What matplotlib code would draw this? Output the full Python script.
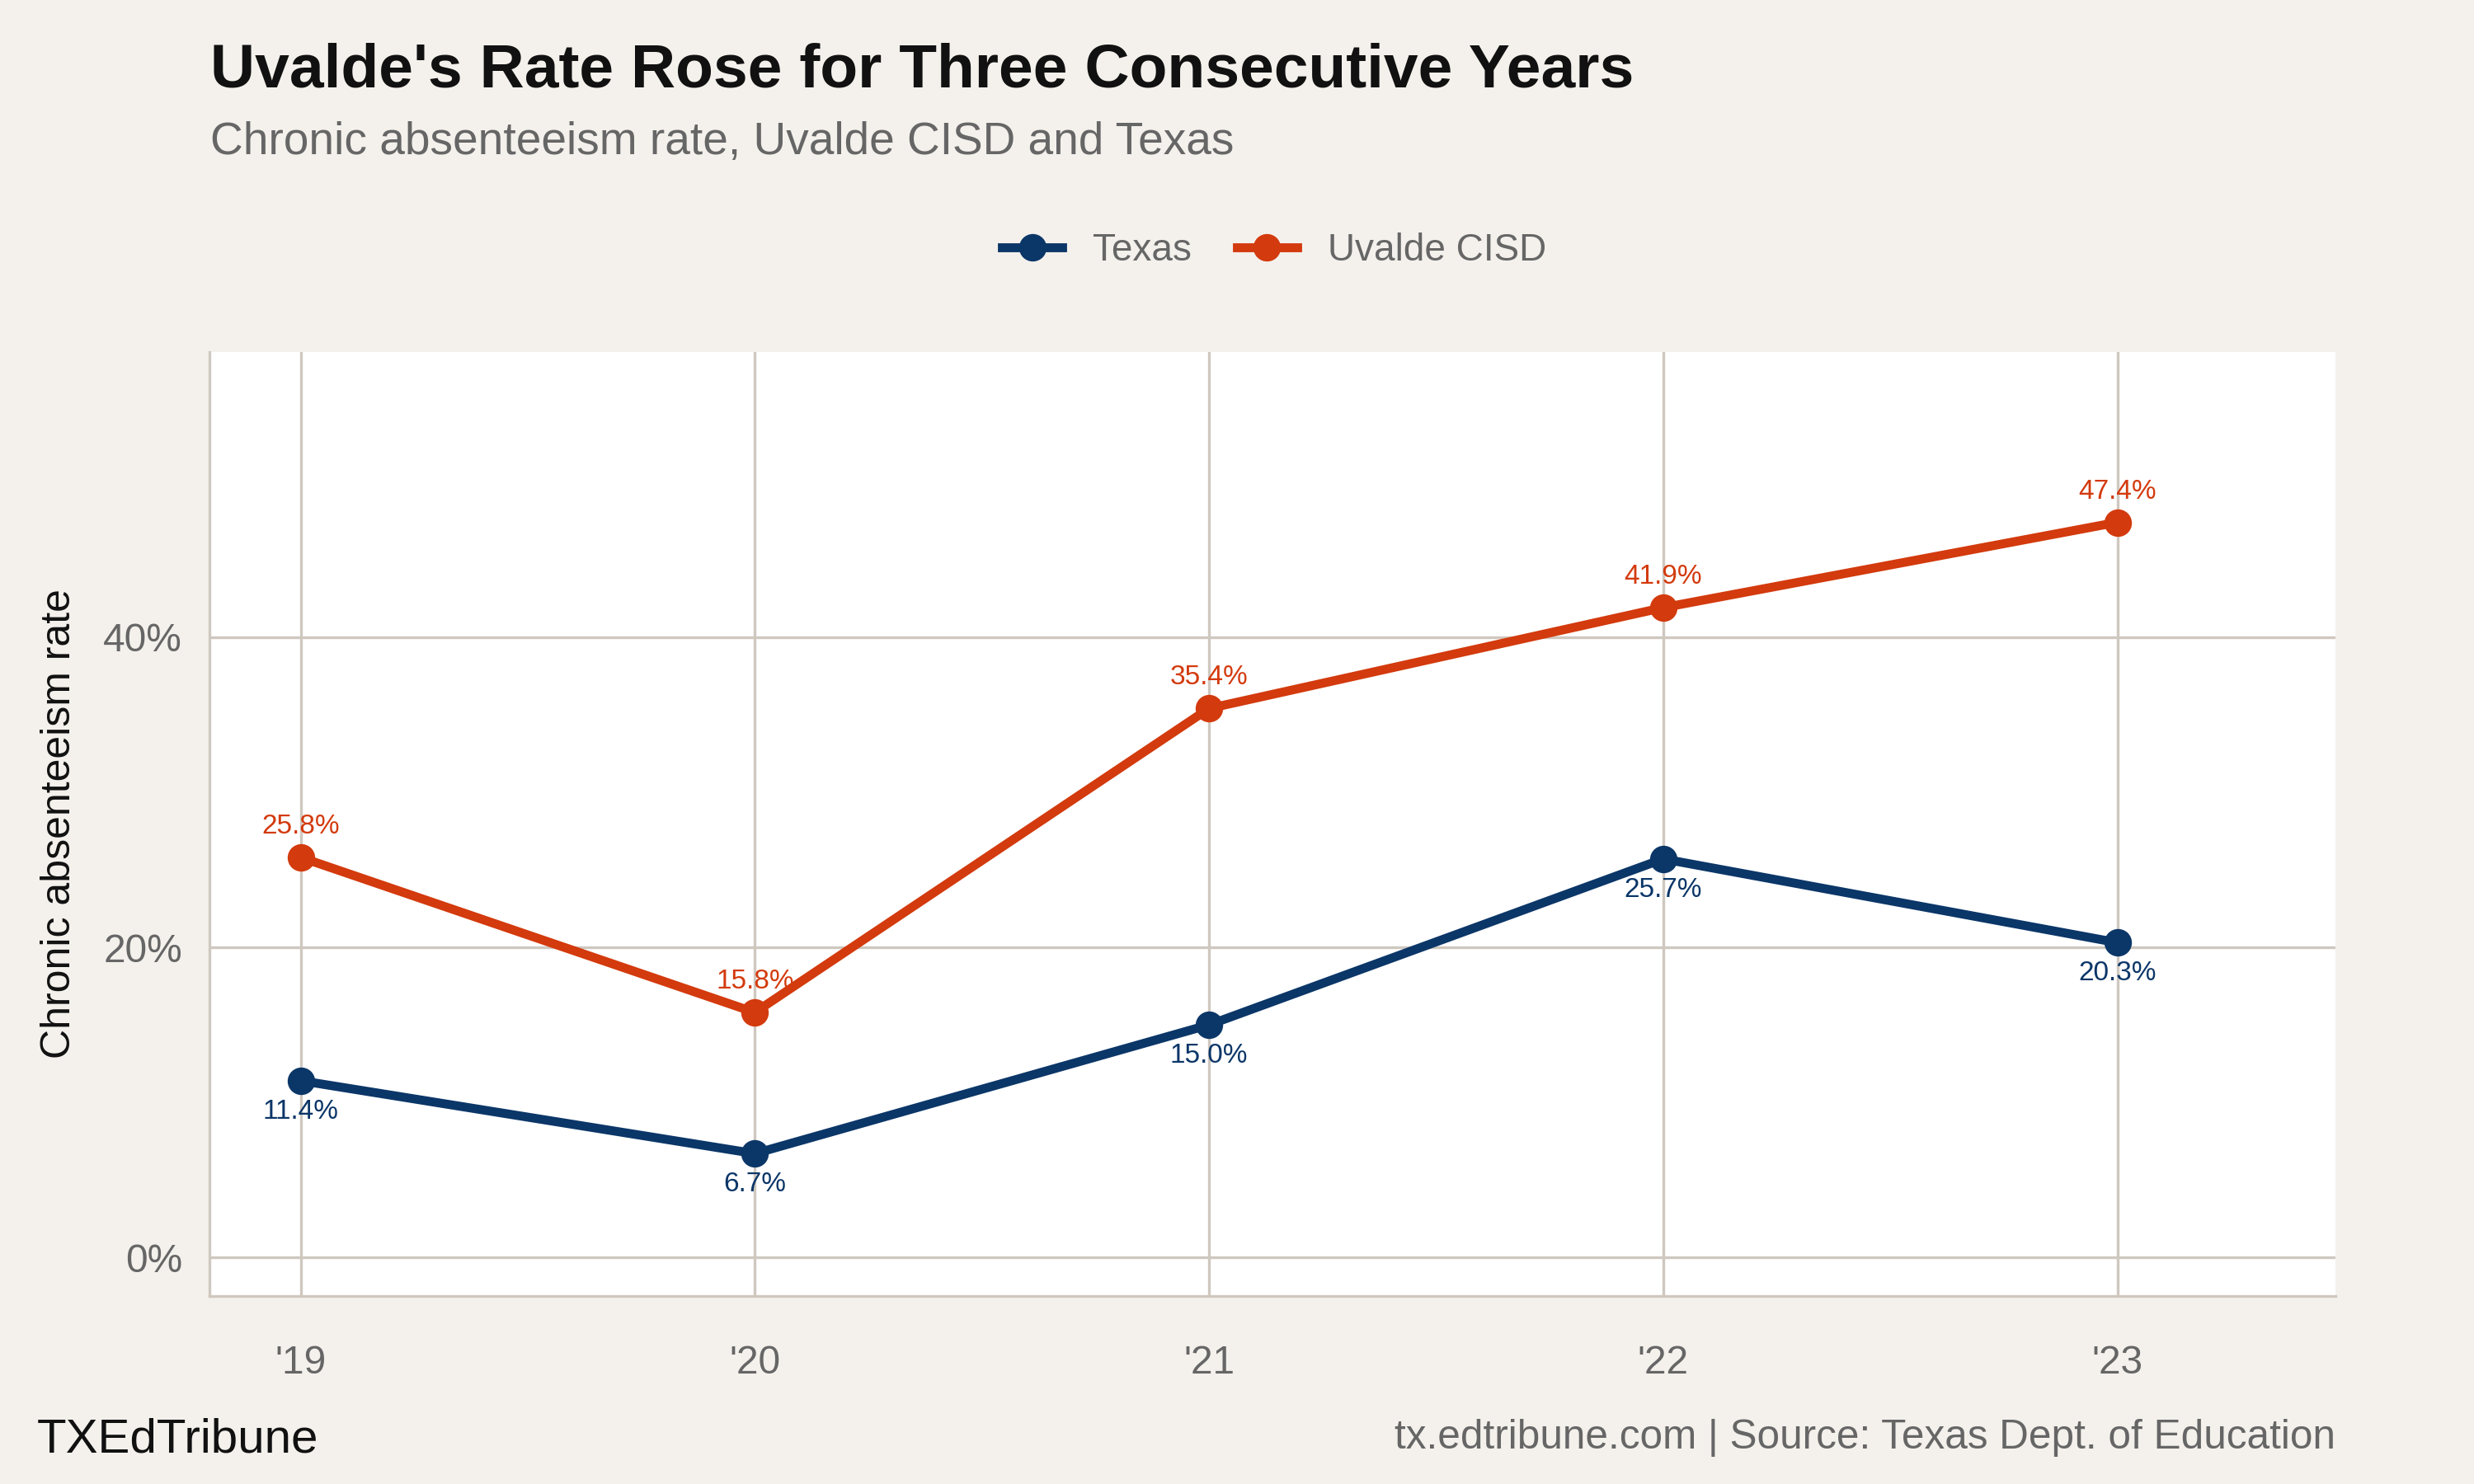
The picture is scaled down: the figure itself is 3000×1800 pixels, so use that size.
import matplotlib.pyplot as plt
from matplotlib.ticker import FuncFormatter

plt.rcParams['font.family'] = ['Liberation Sans', 'DejaVu Sans']

years = [2019, 2020, 2021, 2022, 2023]
year_labels = ["'19", "'20", "'21", "'22", "'23"]
texas = [11.4, 6.7, 15.0, 25.7, 20.3]
uvalde = [25.8, 15.8, 35.4, 41.9, 47.4]

bg = '#f4f1ec'
grid_c = '#cfc8bf'
c_tx = '#0b3668'
c_uv = '#d33a0d'

fig = plt.figure(figsize=(10, 6), dpi=300, facecolor=bg)
ax = fig.add_axes([0.0848, 0.1265, 0.8592, 0.6365])
ax.set_facecolor('white')

ax.plot(years, texas, color=c_tx, lw=2.6, marker='o', ms=7, label='Texas', zorder=3)
ax.plot(years, uvalde, color=c_uv, lw=2.6, marker='o', ms=7, label='Uvalde CISD', zorder=3)

for x, v in zip(years, texas):
    ax.annotate(f'{v:.1f}%', (x, v), xytext=(0, -9), textcoords='offset points',
                ha='center', va='center', fontsize=8, color=c_tx, zorder=4)
for x, v in zip(years, uvalde):
    ax.annotate(f'{v:.1f}%', (x, v), xytext=(0, 9), textcoords='offset points',
                ha='center', va='center', fontsize=8, color=c_uv, zorder=4)

ax.set_xlim(2018.8, 2023.48)
ax.set_ylim(-2.5, 58.4)
ax.set_xticks(years)
ax.set_xticklabels(year_labels)
ax.set_yticks([0, 20, 40])
ax.yaxis.set_major_formatter(FuncFormatter(lambda v, p: f'{v:.0f}%'))
ax.grid(True, color=grid_c, lw=0.8)
ax.set_axisbelow(True)
for s in ['top', 'right']:
    ax.spines[s].set_visible(False)
for s in ['left', 'bottom']:
    ax.spines[s].set_color(grid_c)
ax.tick_params(length=0, labelsize=11.5, labelcolor='#666666', pad=8)
ax.tick_params(axis='x', pad=14)
fig.text(0.024, 0.445, 'Chronic absenteeism rate', fontsize=12, color='#111111',
         rotation=90, ha='center', va='center')

fig.text(0.085, 0.952, "Uvalde's Rate Rose for Three Consecutive Years",
         fontsize=18, fontweight='bold', color='#111111', va='center')
fig.text(0.085, 0.904, 'Chronic absenteeism rate, Uvalde CISD and Texas',
         fontsize=13.2, color='#666666', va='center')
fig.legend(loc='center', bbox_to_anchor=(0.515, 0.831), ncol=2, frameon=False,
           fontsize=11, labelcolor='#666666', handlelength=1.6, columnspacing=1.2)
fig.text(0.015, 0.03, 'TXEdTribune', fontsize=14, color='#111111', va='center')
fig.text(0.944, 0.031, 'tx.edtribune.com | Source: Texas Dept. of Education',
         fontsize=11.9, color='#666666', ha='right', va='center')

fig.savefig('out.png', dpi=300, facecolor=bg)
